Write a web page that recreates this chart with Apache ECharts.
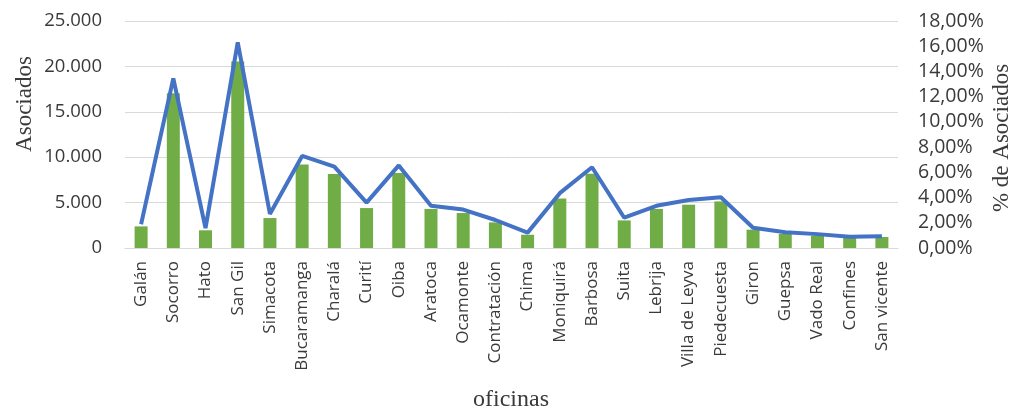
<!DOCTYPE html>
<html>
<head>
<meta charset="utf-8">
<script src="https://cdn.jsdelivr.net/npm/echarts@6/dist/echarts.min.js"></script>
<style>html,body{margin:0;padding:0;background:#fff}#c{width:1028px;height:411px}</style>
</head>
<body>
<div id="c"></div>
<script>
const categories = ["Galán","Socorro","Hato","San Gil","Simacota","Bucaramanga","Charalá","Curití","Oiba","Aratoca","Ocamonte","Contratación","Chima","Moniquirá","Barbosa","Suita","Lebrija","Villa de Leyva","Piedecuesta","Giron","Guepsa","Vado Real","Confines","San vicente"];
const asociados = [2380,17050,1950,20550,3300,9200,8150,4400,8250,4300,3850,2820,1460,5450,8180,3040,4300,4770,5130,2020,1540,1350,1100,1210];
const pctAsociados = [1.88,13.45,1.58,16.3,2.7,7.3,6.45,3.6,6.55,3.35,3.05,2.22,1.22,4.35,6.4,2.4,3.35,3.8,4.03,1.6,1.25,1.1,0.9,0.94];
const leftTicks = {min:0, max:25000, interval:5000};
const rightTicks = {min:0, max:18, interval:2};

const fmtThousands = v => v === 0 ? '0' : String(v).replace(/\B(?=(\d{3})+(?!\d))/g, '.');
const fmtPct = v => v.toFixed(2).replace('.', ',') + '%';

const chart = echarts.init(document.getElementById('c'));
const txt = '#3a3a3a';
chart.setOption({
  animation: false,
  grid: {left: 125, right: 130, top: 21, bottom: 163},
  xAxis: {
    type: 'category', data: categories, boundaryGap: true,
    axisLine: {lineStyle: {color: '#d9d9d9', width: 1}},
    axisTick: {show: false},
    axisLabel: {rotate: 90, interval: 0, margin: 13, color: txt, fontFamily: 'Open Sans', fontSize: 17}
  },
  yAxis: [
    {type: 'value', min: leftTicks.min, max: leftTicks.max, interval: leftTicks.interval,
     axisLine: {show: false}, axisTick: {show: false},
     splitLine: {lineStyle: {color: '#d9d9d9', width: 1}},
     axisLabel: {formatter: fmtThousands, margin: 23, color: txt, fontFamily: 'Open Sans', fontSize: 18.5}},
    {type: 'value', min: rightTicks.min, max: rightTicks.max, interval: rightTicks.interval,
     axisLine: {show: false}, axisTick: {show: false}, splitLine: {show: false},
     axisLabel: {formatter: fmtPct, margin: 20, color: txt, fontFamily: 'Open Sans', fontSize: 19.5}}
  ],
  series: [
    {type: 'bar', data: asociados, yAxisIndex: 0, barWidth: 13, itemStyle: {color: '#70AD47'}},
    {type: 'line', data: pctAsociados, yAxisIndex: 1, symbol: 'none', lineStyle: {color: '#4472C4', width: 4}, itemStyle: {color: '#4472C4'}}
  ],
  graphic: [
    {type: 'text', x: 25, y: 104, rotation: Math.PI/2,
     style: {text: 'Asociados', fill: txt, font: '23px "Liberation Serif"', align: 'center', verticalAlign: 'middle'}},
    {type: 'text', x: 1002, y: 138, rotation: Math.PI/2,
     style: {text: '% de Asociados', fill: txt, font: '23px "Liberation Serif"', align: 'center', verticalAlign: 'middle'}},
    {type: 'text', x: 511, y: 400,
     style: {text: 'oficinas', fill: txt, font: '24px "Liberation Serif"', align: 'center', verticalAlign: 'middle'}}
  ]
});
</script>
</body>
</html>
